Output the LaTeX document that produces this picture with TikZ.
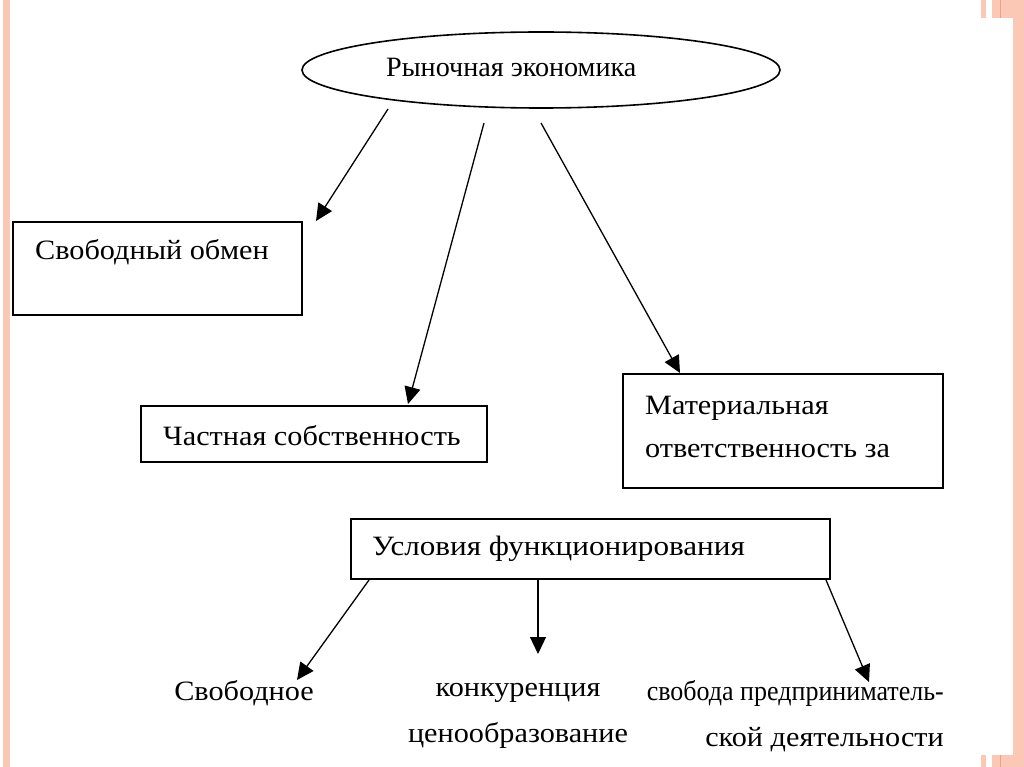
\documentclass[tikz,border=0pt]{standalone}
\usepackage{fontspec}
\setmainfont{Liberation Serif}[FakeStretch=1.08]
\usetikzlibrary{shapes.geometric,arrows.meta}
\definecolor{band}{RGB}{251,200,182}
\definecolor{bandd}{RGB}{240,160,130}
\tikzset{
  box/.style={draw, line width=1.6pt, rectangle, inner sep=0pt},
  lbl/.style={font=\fontsize{28}{30}\selectfont, inner sep=0pt},
  arr/.style={line width=1.3pt, -{Triangle[length=17pt,width=16pt]}}
}
\begin{document}
\begin{tikzpicture}[x=1pt,y=-1pt]
\useasboundingbox (0,0) rectangle (1024,767);
% decorations
\fill[band] (3,0) rectangle (10,767);
\fill[band] (1013,0) rectangle (1024,767);
\fill[band] (981,0) rectangle (986,18);
\fill[band] (992,0) rectangle (1013,18);
\draw[bandd, line width=0.8pt] (1000,0) -- (1000,18);
\fill[band] (981,755) rectangle (986,767);
\fill[band] (992,755) rectangle (1013,767);
\draw[bandd, line width=0.8pt] (1000,755) -- (1000,767);
% nodes
\node[draw, ellipse, line width=1.6pt, minimum width=478pt, minimum height=76pt, inner sep=0pt] (eco) at (541,70) {};
\node[lbl, anchor=west] (ecot) at (386,67) {\scalebox{0.93}[1]{Рыночная экономика}};
\node[box, minimum width=289pt, minimum height=93pt] (b1) at (157.5,268.5) {};
\node[lbl, anchor=west] (b1t) at (35,252) {Свободный обмен};
\node[box, minimum width=346pt, minimum height=56pt] (b2) at (314,434) {};
\node[lbl, anchor=west] (b2t) at (163,436) {Частная собственность};
\node[box, minimum width=320pt, minimum height=114pt] (b3) at (783,431) {};
\node[lbl, anchor=west, align=left] (b3t) at (645,427) {Материальная\\[13pt]ответственность за};
\node[box, minimum width=479pt, minimum height=60pt] (b4) at (590.5,549) {};
\node[lbl, anchor=west] (b4t) at (372,549) {\scalebox{1.03}[1]{Условия функционирования}};
\node[lbl] (c1) at (244,693) {Свободное};
\node[lbl, align=center] (c2) at (518,716) {конкуренция\\[16pt]ценообразование};
\node[lbl, align=right, anchor=east] (c3) at (944,716) {\scalebox{0.86}[1]{свобода предприниматель-}\\[16pt]ской деятельности};
% connector points
\coordinate (e1) at (388,109);
\coordinate (e2) at (484,123);
\coordinate (e3) at (541,123);
\coordinate (t1) at (316,221);
\coordinate (t2) at (408,404);
\coordinate (t3) at (680,373);
\coordinate (u1) at (369,580);
\coordinate (u2) at (538,580);
\coordinate (u3) at (826,580);
\coordinate (v1) at (297,680);
\coordinate (v2) at (538,654);
\coordinate (v3) at (869,682);
\draw[arr] (e1) -- (t1);
\draw[arr] (e2) -- (t2);
\draw[arr] (e3) -- (t3);
\draw[arr] (u1) -- (v1);
\draw[arr] (u2) -- (v2);
\draw[arr] (u3) -- (v3);
\end{tikzpicture}
\end{document}
